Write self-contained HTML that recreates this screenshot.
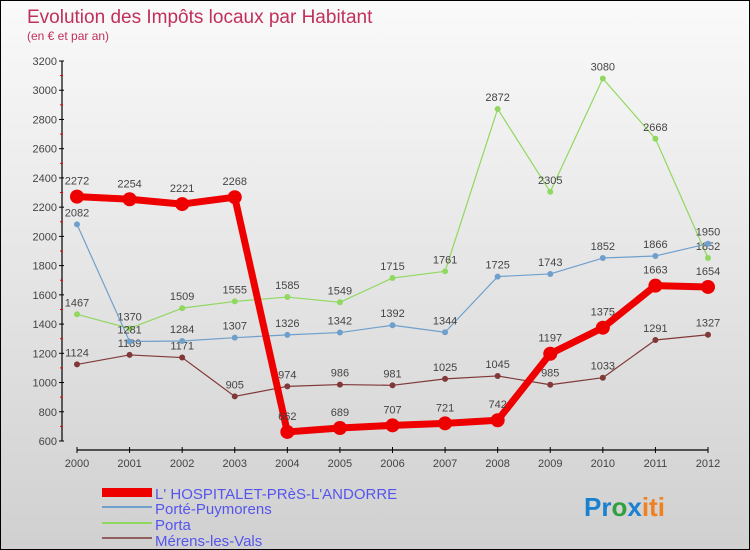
<!DOCTYPE html>
<html><head><meta charset="utf-8"><style>
body{margin:0}
#c{width:750px;height:550px;position:relative;overflow:hidden;border:1px solid #000;box-sizing:border-box;background:linear-gradient(#fafafa,#d0d0d0);font-family:"Liberation Sans",sans-serif}
</style></head><body>
<div id="c">
<svg id="s" width="750" height="550" xmlns="http://www.w3.org/2000/svg">
<text x="26" y="22" font-size="19" fill="#c0305a">Evolution des Impôts locaux par Habitant</text>
<text x="26" y="39" font-size="12" fill="#c0305a">(en € et par an)</text>
<g id="axes"></g><g id="series"></g>
<g font-size="15" fill="#5555ee">
<rect x="101" y="487" width="50" height="9" fill="#e00"/>
<text x="154" y="498">L' HOSPITALET-PRèS-L'ANDORRE</text>
<line x1="101" y1="506" x2="151" y2="506" stroke="#6fa0cc" stroke-width="2"/>
<text x="154" y="513">Porté-Puymorens</text>
<line x1="101" y1="522" x2="151" y2="522" stroke="#90d860" stroke-width="2"/>
<text x="154" y="529">Porta</text>
<line x1="101" y1="537" x2="151" y2="537" stroke="#906060" stroke-width="2"/>
<text x="154" y="545">Mérens-les-Vals</text>
</g>
<text x="583" y="515" font-size="26" font-weight="bold"><tspan fill="#1a80d0">Pr</tspan><tspan fill="#30a040">o</tspan><tspan fill="#1a80d0">x</tspan><tspan fill="#f08020">iti</tspan></text>
</svg>
</div>
<script>
const years=[2000,2001,2002,2003,2004,2005,2006,2007,2008,2009,2010,2011,2012];
const hospitalet=[2272,2254,2221,2268,662,689,707,721,742,1197,1375,1663,1654];
const porte=[2082,1281,1284,1307,1326,1342,1392,1344,1725,1743,1852,1866,1950];
const porta=[1467,1370,1509,1555,1585,1549,1715,1761,2872,2305,3080,2668,1852];
const merens=[1124,1189,1171,905,974,986,981,1025,1045,985,1033,1291,1327];
const yTicks=[600,800,1000,1200,1400,1600,1800,2000,2200,2400,2600,2800,3000,3200];
const NS="http://www.w3.org/2000/svg";
const x=i=>76+i*(707-76)/(years.length-1);
const y=v=>440-(v-600)*380/2600;
function mk(tag,attrs,parent){const e=document.createElementNS(NS,tag);for(const k in attrs)e.setAttribute(k,attrs[k]);parent.appendChild(e);return e;}
const ax=document.getElementById('axes');
const yl=mk('line',{x1:61,y1:60,x2:61,y2:440,stroke:'#000','stroke-width':1.2},ax);


yTicks.forEach((t,i)=>{
  mk('line',{x1:58,y1:y(t),x2:63,y2:y(t),stroke:'#000'},ax);
  if(i<yTicks.length-1)mk('line',{x1:59,y1:y(t+100),x2:62,y2:y(t+100),stroke:'#e00'},ax);
  const tx=mk('text',{x:56,y:y(t)+4,'font-size':11,'text-anchor':'end',fill:'#444'},ax);
  tx.textContent=t;
  
  
});
const xl=mk('line',{x1:76,y1:449,x2:707,y2:449,stroke:'#000','stroke-width':1.2},ax);


years.forEach((yr,i)=>{
  mk('line',{x1:x(i),y1:446,x2:x(i),y2:452,stroke:'#000'},ax);
  const tx=mk('text',{x:x(i),y:466,'font-size':11,'text-anchor':'middle',fill:'#444'},ax);
  tx.textContent=yr;
  
  
});
const sg=document.getElementById('series');
function draw(name,vals,color,w,r,labelOff){
  const g=mk('g',{},sg);
  
  
  const pl=mk('polyline',{points:vals.map((v,i)=>x(i)+','+y(v)).join(' '),fill:'none',stroke:color,'stroke-width':w,'stroke-linejoin':'round'},g);
  
  
  vals.forEach((v,i)=>{
    const c=mk('circle',{cx:x(i),cy:y(v),r:r,fill:color},g);
    
    
    const t=mk('text',{x:x(i),y:y(v)+labelOff,'font-size':11,'text-anchor':'middle',fill:'#444'},g);
    t.textContent=v;
    
    
  });
}
draw('merens',merens,'#803838',1.2,3,-8);
draw('porta',porta,'#90d860',1.2,3,-8);
draw('porte',porte,'#6fa0cc',1.2,3,-8);
draw('hospitalet',hospitalet,'#ee0000',7,7,-12);
</script>
</body></html>
